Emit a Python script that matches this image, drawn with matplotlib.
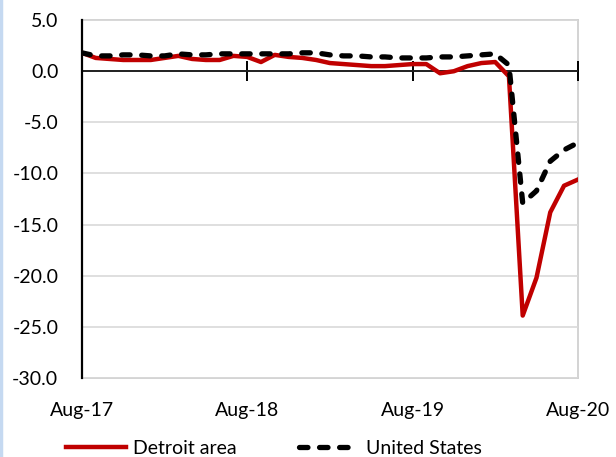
import matplotlib
matplotlib.use("Agg")
import matplotlib.pyplot as plt
from matplotlib.lines import Line2D
from matplotlib.ticker import FormatStrFormatter

plt.rcParams["font.family"] = ["Lato", "DejaVu Sans"]
plt.rcParams["axes.unicode_minus"] = False

# monthly, Aug-17 .. Aug-20 (percent change from a year earlier)
months = list(range(37))
detroit = [1.8, 1.3, 1.2, 1.1, 1.1, 1.1, 1.3, 1.5, 1.2, 1.1, 1.1, 1.5,
           1.4, 0.9, 1.6, 1.4, 1.3, 1.1, 0.8, 0.7, 0.6, 0.5, 0.5, 0.6,
           0.7, 0.7, -0.2, 0.0, 0.5, 0.8, 0.9, -0.5, -23.9, -20.2, -13.8,
           -11.2, -10.6]
united_states = [1.8, 1.5, 1.5, 1.6, 1.6, 1.5, 1.5, 1.7, 1.6, 1.6, 1.7, 1.7,
                 1.7, 1.7, 1.7, 1.7, 1.8, 1.8, 1.6, 1.5, 1.5, 1.4, 1.4, 1.3,
                 1.3, 1.3, 1.4, 1.4, 1.5, 1.6, 1.7, 0.6, -12.9, -11.7, -8.8,
                 -7.7, -7.0]
tick_pos = [0, 12, 24, 36]
tick_labels = ["Aug-17", "Aug-18", "Aug-19", "Aug-20"]
y_ticks = [5, 0, -5, -10, -15, -20, -25, -30]

fig = plt.figure(figsize=(6.16, 4.57), dpi=100)
ax = fig.add_axes([0.133, 0.173, 0.805, 0.783])

ax.plot(months, detroit, color="#C00000", lw=3.2, label="Detroit area",
        solid_joinstyle="round", zorder=3)
ax.plot(months, united_states, color="black", lw=3.8, label="United States",
        linestyle=(0, (1.6, 2.2)), dash_capstyle="round", zorder=4)

ax.set_xlim(0, 36)
ax.set_ylim(-30, 5)
ax.set_yticks(y_ticks)
ax.yaxis.set_major_formatter(FormatStrFormatter("%.1f"))
ax.tick_params(axis="y", length=0, labelsize=14, pad=17)
ax.grid(axis="y", color="#d9d9d9", lw=1.2, zorder=0)

for s in ["top", "right"]:
    ax.spines[s].set_color("#d0d0d0")
    ax.spines[s].set_linewidth(1.3)
    ax.spines[s].set_zorder(0.5)
ax.spines["left"].set_color("black")
ax.spines["left"].set_linewidth(1.6)

# x axis line crosses at zero, labels at the bottom
ax.spines["bottom"].set_position(("data", 0))
ax.spines["bottom"].set_color("black")
ax.spines["bottom"].set_linewidth(1.2)
ax.set_xticks(tick_pos)
ax.set_xticklabels([])
ax.tick_params(axis="x", direction="inout", length=14, width=1.4)

bottom = ax.secondary_xaxis(0)
bottom.set_xticks(tick_pos)
bottom.set_xticklabels(tick_labels)
bottom.tick_params(length=0, labelsize=14, pad=17)
bottom.spines["bottom"].set_color("#d0d0d0")
bottom.spines["bottom"].set_linewidth(1.3)

leg = fig.legend(loc="lower center", bbox_to_anchor=(0.445, -0.038), ncol=2,
                 frameon=False, fontsize=14, handlelength=3.1,
                 columnspacing=3.2, handletextpad=0.36)

fig.add_artist(Line2D([0.002, 0.002], [0, 1], color="#c5d9f1", lw=2.5))

fig.savefig("out.png", dpi=100)
